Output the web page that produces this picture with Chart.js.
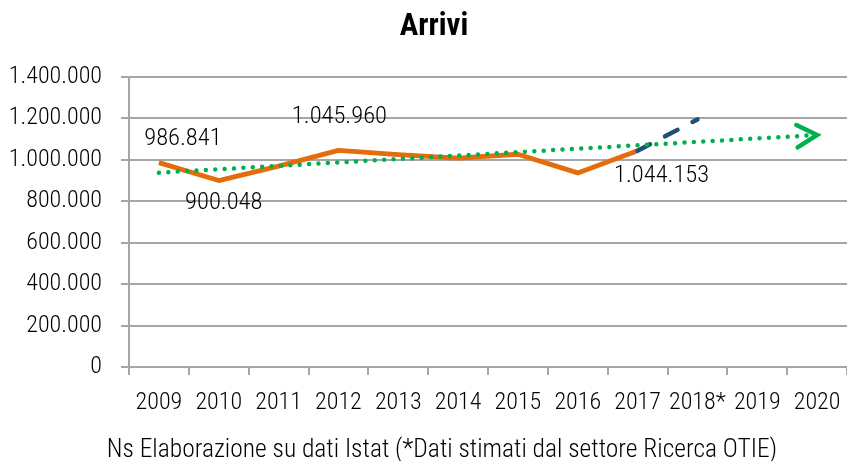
<!DOCTYPE html>
<html>
<head>
<meta charset="utf-8">
<script src="https://cdn.jsdelivr.net/npm/chart.js@4/dist/chart.umd.min.js"></script>
<style>
  html, body { margin: 0; padding: 0; background: #ffffff; }
  #wrap { width: 847px; height: 461px; position: relative; }
</style>
</head>
<body>
<div id="wrap"><canvas id="c" width="847" height="461"></canvas></div>
<script>
// ---- data ----
const categories = ['2009', '2010', '2011', '2012', '2013', '2014', '2015', '2016', '2017', '2018*', '2019', '2020'];
const arrivi     = [986841, 900048, 970000, 1045960, 1025000, 1008000, 1027000, 937000, 1044153, null, null, null];
const stima      = [null, null, null, null, null, null, null, null, 1044153, 1195000, null, null];
const tendenza   = [938000, null, null, null, null, null, null, null, null, null, null, 1120000];
const yTicks     = [0, 200000, 400000, 600000, 800000, 1000000, 1200000, 1400000];
const labelledPoints = [0, 1, 3, 8];
const titleText  = 'Arrivi';
const sourceText = 'Ns Elaborazione su dati Istat (*Dati stimati dal settore Ricerca OTIE)';

// ---- helpers ----
const FONT = '"Roboto Condensed", "Liberation Sans Narrow", "Arial Narrow", sans-serif';
const fmt = v => String(Math.round(v)).replace(/\B(?=(\d{3})+(?!\d))/g, '.');
const GRID = '#a6a6a6';
const TEXT = '#000000';

// label placement offsets (pixels) relative to the data point, per labelled index
const labelOffsets = { 0: [24, -24], 1: [5, 22], 3: [1, -33], 8: [24, 25] };

const decorPlugin = {
  id: 'decor',
  afterDatasetsDraw(chart) {
    const ctx = chart.ctx;
    const meta = chart.getDatasetMeta(2);
    ctx.save();
    ctx.font = '300 24.5px ' + FONT;
    ctx.fillStyle = TEXT;
    ctx.textAlign = 'center';
    ctx.textBaseline = 'middle';
    labelledPoints.forEach(i => {
      const p = meta.data[i];
      const off = labelOffsets[i] || [0, -20];
      ctx.fillText(fmt(arrivi[i]), p.x + off[0], p.y + off[1]);
    });
    ctx.restore();

    // arrow head at the end of the trend line
    const tm = chart.getDatasetMeta(0);
    const pts = tm.data.filter((p, i) => tendenza[i] !== null);
    const a = pts[0], b = pts[pts.length - 1];
    const ang = Math.atan2(b.y - a.y, b.x - a.x);
    const len = 23, spread = 29 * Math.PI / 180;
    const tipX = b.x, tipY = b.y;
    ctx.save();
    ctx.strokeStyle = '#00b050';
    ctx.lineWidth = 4.5;
    ctx.lineCap = 'round';
    ctx.lineJoin = 'miter';
    ctx.beginPath();
    ctx.moveTo(tipX - len * Math.cos(ang - spread), tipY - len * Math.sin(ang - spread));
    ctx.lineTo(tipX, tipY);
    ctx.lineTo(tipX - len * Math.cos(ang + spread), tipY - len * Math.sin(ang + spread));
    ctx.stroke();
    ctx.restore();
  },
  afterDraw(chart) {
    const ctx = chart.ctx;
    ctx.save();
    ctx.fillStyle = '#000000';
    ctx.textAlign = 'center';
    ctx.textBaseline = 'alphabetic';
    ctx.font = 'bold 31px ' + FONT;
    ctx.fillText(titleText, 434, 35);
    ctx.fillStyle = TEXT;
    ctx.font = '300 25.5px ' + FONT;
    ctx.fillText(sourceText, 442, 457);
    ctx.restore();
  }
};

new Chart(document.getElementById('c'), {
  type: 'line',
  data: {
    labels: categories,
    datasets: [
      {
        label: 'Tendenza',
        data: tendenza,
        spanGaps: true,
        borderColor: '#00b050',
        borderWidth: 4.5,
        borderDash: [0, 9.4],
        borderCapStyle: 'round',
        pointRadius: 0,
        fill: false,
        order: 0
      },
      {
        label: 'Stima',
        data: stima,
        borderColor: '#1f4e79',
        borderWidth: 4.5,
        borderDash: [14, 17],
        borderCapStyle: 'round',
        pointRadius: 0,
        fill: false,
        order: 1
      },
      {
        label: 'Arrivi',
        data: arrivi,
        borderColor: '#e46c0a',
        borderWidth: 4.8,
        borderJoinStyle: 'round',
        borderCapStyle: 'butt',
        pointRadius: 0,
        tension: 0,
        fill: false,
        order: 2
      }
    ]
  },
  options: {
    responsive: false,
    animation: false,
    devicePixelRatio: 1,
    layout: { padding: { top: 77, right: 0, bottom: 0, left: 0 } },
    plugins: {
      legend: { display: false },
      tooltip: { enabled: false },
      title: { display: false }
    },
    scales: {
      x: {
        type: 'category',
        offset: true,
        afterFit: s => { s.height = 94; s.paddingLeft = 0; s.paddingRight = 0; },
        grid: {
          display: true,
          drawOnChartArea: false,
          drawTicks: true,
          tickLength: 8,
          offset: true,
          color: GRID,
          lineWidth: 2
        },
        border: { display: true, color: GRID, width: 2 },
        ticks: {
          autoSkip: false,
          maxRotation: 0,
          minRotation: 0,
          padding: 14,
          color: TEXT,
          font: { family: FONT, size: 24, weight: 300 }
        }
      },
      y: {
        min: 0,
        max: 1400000,
        afterFit: s => { s.width = 129; },
        afterBuildTicks: s => { s.ticks = yTicks.map(v => ({ value: v })); },
        grid: {
          color: GRID,
          lineWidth: 2,
          drawTicks: true,
          tickLength: 8
        },
        border: { display: true, color: GRID, width: 2 },
        ticks: {
          padding: 19,
          color: TEXT,
          font: { family: FONT, size: 24, weight: 300 },
          callback: v => fmt(v)
        }
      }
    }
  },
  plugins: [decorPlugin]
});
</script>
</body>
</html>
